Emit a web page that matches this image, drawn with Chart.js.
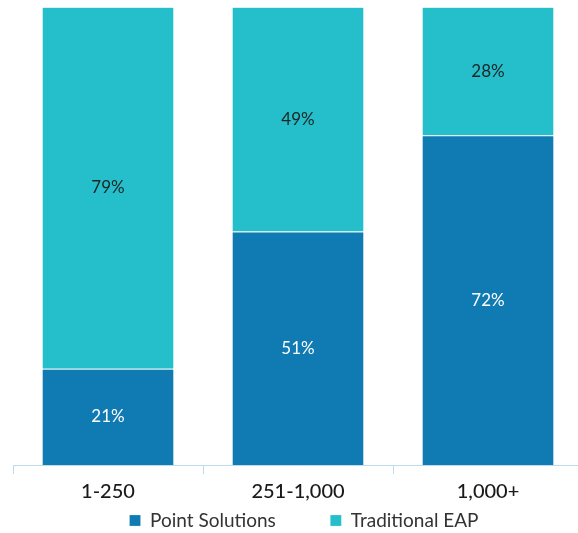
<!DOCTYPE html>
<html>
<head>
<meta charset="utf-8">
<script src="https://cdn.jsdelivr.net/npm/chart.js@4.4.0/dist/chart.umd.min.js"></script>
<style>
  html, body { margin: 0; padding: 0; background: #fff; overflow: hidden; }
  #wrap { width: 578px; height: 533px; overflow: hidden; }
</style>
</head>
<body>
<div id="wrap"><canvas id="myChart" width="600" height="533"></canvas></div>
<script>
// -- DATA ---------------//
const Sizes = ['1-250', '251-1,000', '1,000+'];
const Point_solutions = [21, 51, 72];
const Traditional_eap = [79, 49, 28];

const FONT = 'Lato, "Open Sans", sans-serif';

// percentage text inside each segment
const segmentLabels = {
	id: 'segmentLabels',
	afterDatasetsDraw(chart) {
		const ctx = chart.ctx;
		ctx.save();
		ctx.font = '400 17px ' + FONT;
		ctx.textAlign = 'center';
		ctx.textBaseline = 'middle';
		chart.data.datasets.forEach((ds, i) => {
			const meta = chart.getDatasetMeta(i);
			ctx.fillStyle = i === 0 ? '#ffffff' : '#1c2424';
			meta.data.forEach((bar, j) => {
				const mid = (bar.y + bar.base) / 2;
				ctx.fillText(ds.data[j] + '%', bar.x, mid);
			});
		});
		ctx.restore();
	}
};

const ctx1 = document.getElementById('myChart').getContext('2d');

const myChart = new Chart(ctx1, {
	type: 'bar',
	data: {
		labels: Sizes,
		datasets: [
			{
				label: 'Point Solutions',
				data: Point_solutions,
				backgroundColor: '#0f7bb2',
				borderColor: '#cfeaf3',
				borderWidth: { top: 1, left: 0, right: 0, bottom: 0 },
				borderSkipped: false,
				categoryPercentage: 1,
				barPercentage: 0.69,
			},
			{
				label: 'Traditional EAP',
				data: Traditional_eap,
				backgroundColor: '#24bfca',
				borderColor: '#d6f2f5',
				borderWidth: { top: 1, left: 0, right: 0, bottom: 0 },
				borderSkipped: false,
				categoryPercentage: 1,
				barPercentage: 0.69,
			},
		],
	},
	options: {
		responsive: false,
		maintainAspectRatio: false,
		animation: false,
		layout: {
			padding: { top: 7, left: 13, right: 5, bottom: -7 },
		},
		plugins: {
			legend: {
				position: 'bottom',
				labels: {
					boxWidth: 11,
					boxHeight: 11,
					padding: 1,
					color: '#333333',
					font: { size: 19, family: FONT, weight: '400' },
					// widen the gap after the first entry
					generateLabels(chart) {
						const items = Chart.defaults.plugins.legend.labels.generateLabels(chart);
						items[0].text = items[0].text + '\u00a0'.repeat(11);
						return items;
					},
				},
			},
			tooltip: { enabled: false },
		},
		scales: {
			x: {
				stacked: true,
				grid: {
					drawOnChartArea: false,
					tickLength: 9,
					color: '#bcdcee',
				},
				border: { color: '#bcdcee', width: 1 },
				ticks: {
					color: '#1a1a1a',
					padding: 6,
					font: { size: 20, family: FONT, weight: '500' },
				},
			},
			y: {
				stacked: true,
				position: 'right',
				min: 0,
				max: 100,
				grid: { display: false },
				border: { display: false },
				ticks: { display: false },
				afterFit(scale) {
					scale.width = 12;
				},
			},
		},
	},
	plugins: [segmentLabels],
});
</script>
</body>
</html>
